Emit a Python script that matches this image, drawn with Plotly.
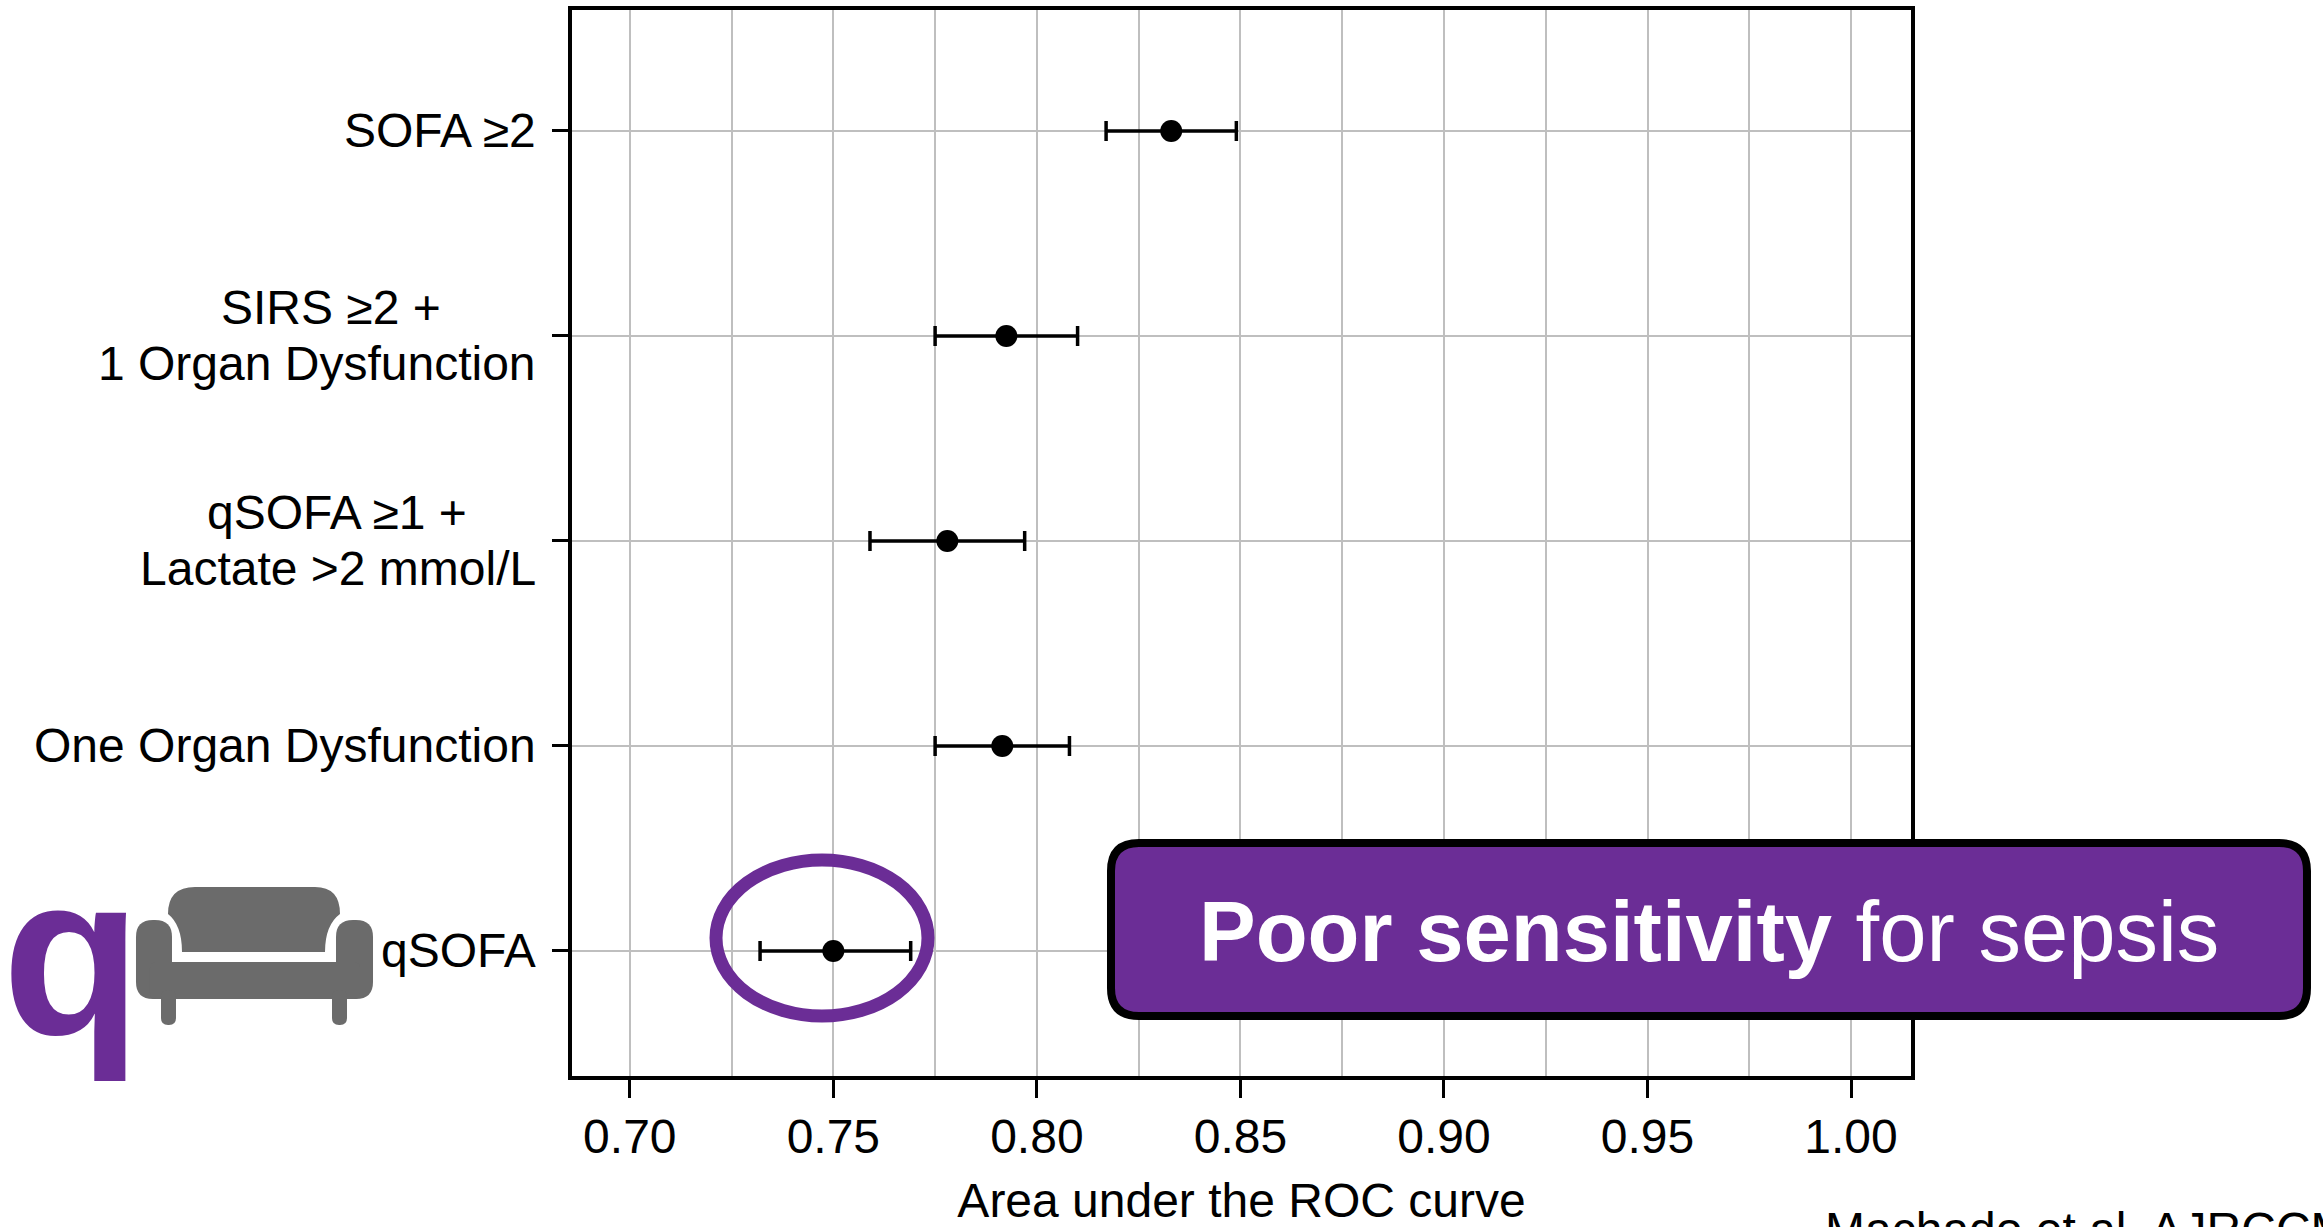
import plotly.graph_objects as go

W, H = 2323, 1227
PL, PR, PT, PB = 572, 1911, 10, 1076
PURPLE = "#6B2D96"
SOFA_GREY = "#6B6B6B"

# Data (top row first)
categories = [["SOFA ≥2"],
              ["SIRS ≥2 +", "1 Organ Dysfunction"],
              ["qSOFA ≥1 +", "Lactate >2 mmol/L"],
              ["One Organ Dysfunction"],
              ["qSOFA"]]
auc = [0.833, 0.7925, 0.778, 0.7915, 0.750]
ci_low = [0.817, 0.775, 0.759, 0.775, 0.732]
ci_high = [0.849, 0.810, 0.797, 0.808, 0.769]
x_ticks = [0.70, 0.75, 0.80, 0.85, 0.90, 0.95, 1.00]
x_labels = ["0.70", "0.75", "0.80", "0.85", "0.90", "0.95", "1.00"]
x_title = "Area under the ROC curve"
citation = "Machado et al. AJRCCM"

rows = list(range(len(categories) - 1, -1, -1))


def px(x):
    return x / W


def py(y):
    return 1 - y / H


def path(*parts):
    out = []
    for p in parts:
        if isinstance(p, str):
            out.append(p)
        else:
            out.append(f"{px(p[0]):.5f},{py(p[1]):.5f}")
    return " ".join(out)


def rounded(x0, y0, x1, y1, r):
    return path("M", (x0 + r, y0), "L", (x1 - r, y0), "Q", (x1, y0), (x1, y0 + r),
                "L", (x1, y1 - r), "Q", (x1, y1), (x1 - r, y1),
                "L", (x0 + r, y1), "Q", (x0, y1), (x0, y1 - r),
                "L", (x0, y0 + r), "Q", (x0, y0), (x0 + r, y0), "Z")


fig = go.Figure(go.Scatter(
    x=auc, y=rows, mode="markers",
    marker=dict(color="black", size=22),
    error_x=dict(type="data", symmetric=False,
                 array=[h - a for h, a in zip(ci_high, auc)],
                 arrayminus=[a - l for a, l in zip(auc, ci_low)],
                 color="black", thickness=3.5, width=10),
    showlegend=False, cliponaxis=False,
))

shapes = []


def add_path(d, fill=SOFA_GREY, line_color=None, line_width=0):
    shapes.append(dict(type="path", xref="paper", yref="paper", path=d, fillcolor=fill,
                       line=dict(color=line_color or fill, width=line_width), layer="above"))


# Sofa icon
add_path(path("M", (168, 914), "Q", (168, 887), (195, 887), "L", (315, 887), "Q", (340, 887), (340, 914),
              "Q", (325, 925), (325, 952), "L", (182, 952), "Q", (182, 925), (168, 914), "Z"))
add_path(rounded(136, 920, 172, 999, 17))
add_path(rounded(336, 920, 373, 999, 17))
add_path(rounded(150, 962, 360, 999, 6))
add_path(rounded(161, 990, 176, 1025, 7))
add_path(rounded(332, 990, 347, 1025, 7))

# Highlight ellipse
shapes.append(dict(type="circle", xref="paper", yref="paper", layer="above",
                   x0=px(716), x1=px(928), y0=py(860), y1=py(1016),
                   line=dict(color=PURPLE, width=13), fillcolor="rgba(0,0,0,0)"))
# Callout box
add_path(rounded(1111, 843, 2307, 1016, 28), fill=PURPLE, line_color="black", line_width=8)

annotations = []
FONT = "Liberation Sans, Helvetica, Arial, sans-serif"
LINE = 56
for row, lines in zip(rows, categories):
    n = len(lines)
    for i, text in enumerate(lines):
        annotations.append(dict(
            text=text, xref="paper", yref="y", x=px(538), y=row,
            xanchor="right" if (n == 1 or len(text) == max(map(len, lines))) else "center",
            yanchor="middle", yshift=(n - 1) * LINE / 2 - i * LINE, showarrow=False,
            font=dict(family=FONT, size=48, color="black")))

# Centre the short first lines of the two-line labels over the longer line
annotations[1]["x"] = px(331)
annotations[3]["x"] = px(337)

annotations += [
    dict(text="<b>Poor sensitivity</b> for sepsis", xref="paper", yref="paper",
         x=px(1709), y=py(932), xanchor="center", yanchor="middle", showarrow=False,
         font=dict(family=FONT, size=85, color="white")),
    dict(text="<b>q</b>", xref="paper", yref="paper", x=px(0), y=py(955), xanchor="left", yanchor="middle",
         showarrow=False, font=dict(family=FONT, size=228, color=PURPLE)),
    dict(text=citation, xref="paper", yref="paper", x=px(1823), y=py(1201), xanchor="left", yanchor="top",
         showarrow=False, font=dict(family=FONT, size=48, color="black")),
]

fig.update_layout(
    width=W, height=H, autosize=False,
    margin=dict(l=0, r=0, t=0, b=0, pad=0),
    paper_bgcolor="white", plot_bgcolor="white",
    font=dict(family=FONT, color="black"),
    shapes=shapes, annotations=annotations,
    xaxis=dict(
        domain=[px(PL), px(PR)], range=[0.6858, 1.01473],
        tickvals=x_ticks, ticktext=x_labels, tickfont=dict(size=48, color="black"),
        ticks="outside", ticklen=18, tickwidth=3, tickcolor="black",
        ticklabelstandoff=-3,
        showgrid=True, gridcolor="#BFBFBF", gridwidth=2,
        minor=dict(dtick=0.025, tick0=0.7, showgrid=True, gridcolor="#BFBFBF", gridwidth=2, ticks=""),
        showline=True, linecolor="black", linewidth=4, mirror=True, zeroline=False,
        title=dict(text=x_title, font=dict(size=48, color="black"), standoff=40),
        automargin=False,
    ),
    yaxis=dict(
        domain=[py(PB), py(PT)], range=[-0.61, 4.59],
        tickvals=rows, showticklabels=False,
        ticks="outside", ticklen=16, tickwidth=3, tickcolor="black",
        showgrid=True, gridcolor="#BFBFBF", gridwidth=2,
        showline=True, linecolor="black", linewidth=4, mirror=True, zeroline=False,
        automargin=False,
    ),
)

fig.write_html("out.html", config={"displayModeBar": False},
               post_script="document.body.style.margin='0';document.body.style.overflow='hidden';")
